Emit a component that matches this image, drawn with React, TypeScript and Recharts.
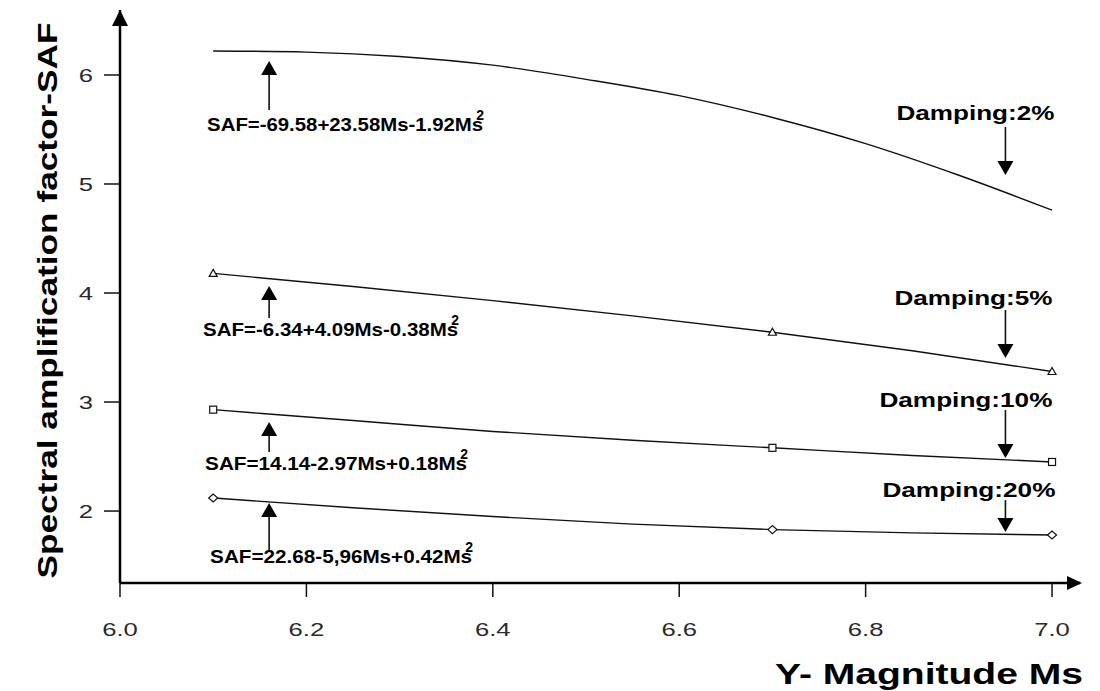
import React from "react";
import { ComposedChart, Line, Scatter, XAxis, YAxis, ReferenceDot } from "recharts";

// magnitude values where the fitted curves were read
const curveMs = [6.1, 6.25, 6.4, 6.55, 6.7, 6.85, 7.0];
const curveMs2 = [6.1, 6.2, 6.3, 6.4, 6.5, 6.6, 6.7, 6.8, 6.9, 7.0];

// SAF
const saf2 = [6.22, 6.21, 6.17, 6.09, 5.96, 5.81, 5.61, 5.37, 5.08, 4.76];
const saf5 = [4.18, 4.06, 3.93, 3.79, 3.64, 3.47, 3.28];
const saf10 = [2.93, 2.83, 2.73, 2.65, 2.58, 2.51, 2.45];
const saf20 = [2.12, 2.03, 1.95, 1.88, 1.83, 1.8, 1.78];

// observed points (markers)
const markerMs = [6.1, 6.7, 7.0];
const obs5 = [4.18, 3.64, 3.28];
const obs10 = [2.93, 2.58, 2.45];
const obs20 = [2.12, 1.83, 1.78];

const xTicks = [6.0, 6.2, 6.4, 6.6, 6.8, 7.0];
const yTicks = [2, 3, 4, 5, 6];

const dampingLabels = ["Damping:2%", "Damping:5%", "Damping:10%", "Damping:20%"];
const equations = [
  "SAF=-69.58+23.58Ms-1.92Ms",
  "SAF=-6.34+4.09Ms-0.38Ms",
  "SAF=14.14-2.97Ms+0.18Ms",
  "SAF=22.68-5,96Ms+0.42Ms",
];
// where the arrows point (Ms, SAF)
const eqArrowMs = 6.16;
const eqArrowSaf = [6.128, 4.064, 2.817, 2.073];
const dampArrowMs = 6.95;
const dampArrowSaf = [5.083, 3.404, 2.486, 1.807];

const X_DOMAIN: [number, number] = [6, 7.03];
const Y_DOMAIN: [number, number] = [1.34, 6.596];

const FONT = "'Liberation Sans', Arial, sans-serif";
const INK = "#111";

const toRows = (xs: number[], ys: number[]) => xs.map((m, i) => ({ m, saf: ys[i] }));

// layout of the annotation texts, px relative to arrow tip
const eqLayout = [
  { shaft: 49, dx: -62, dy: 70, len: 276 },
  { shaft: 32, dx: -66, dy: 50, len: 255 },
  { shaft: 30, dx: -64, dy: 48, len: 262 },
  { shaft: 49, dx: -59, dy: 60, len: 262 },
];
const dampLayout = [
  { shaft: 48, right: 49, dy: -55 },
  { shaft: 48, right: 47, dy: -53 },
  { shaft: 48, right: 47, dy: -51 },
  { shaft: 32, right: 50, dy: -35 },
];

function XTick(props: any) {
  const { x, y, payload } = props;
  return (
    <text
      transform={`translate(${x},${y + 37}) scale(1.35,1)`}
      textAnchor="middle"
      fontFamily={FONT}
      fontSize={19}
      fill="#2a2a2a"
    >
      {payload.value.toFixed(1)}
    </text>
  );
}

function YTick(props: any) {
  const { x, y, payload } = props;
  return (
    <text
      transform={`translate(${x - 2},${y + 7}) scale(1.35,1)`}
      textAnchor="end"
      fontFamily={FONT}
      fontSize={19}
      fill="#2a2a2a"
    >
      {payload.value}
    </text>
  );
}

const triangle = (p: any) => (
  <path
    d={`M${p.cx},${p.cy - 4} L${p.cx + 4},${p.cy + 3} L${p.cx - 4},${p.cy + 3} Z`}
    fill="#fff"
    stroke={INK}
    strokeWidth={1.2}
  />
);
const square = (p: any) => (
  <rect x={p.cx - 3.5} y={p.cy - 3.5} width={7} height={7} fill="#fff" stroke={INK} strokeWidth={1.2} />
);
const diamond = (p: any) => (
  <path
    d={`M${p.cx - 4.5},${p.cy} L${p.cx},${p.cy - 4} L${p.cx + 4.5},${p.cy} L${p.cx},${p.cy + 4} Z`}
    fill="#fff"
    stroke={INK}
    strokeWidth={1.2}
  />
);

function UpNote(props: any) {
  const { cx, cy, i } = props;
  const l = eqLayout[i];
  const tx = cx + l.dx;
  const ty = cy + l.dy;
  return (
    <g>
      <line x1={cx} y1={cy + 10} x2={cx} y2={cy + l.shaft} stroke={INK} strokeWidth={1.6} />
      <polygon points={`${cx},${cy} ${cx - 8},${cy + 14} ${cx + 8},${cy + 14}`} fill="#000" />
      <text
        x={tx}
        y={ty}
        textLength={l.len}
        lengthAdjust="spacingAndGlyphs"
        fontFamily={FONT}
        fontWeight="bold"
        fontSize={18}
        fill="#000"
      >
        {equations[i]}
      </text>
      <text x={tx + l.len + 1} y={ty - 11} textAnchor="end" fontFamily={FONT} fontWeight="bold" fontSize={14} fill="#000">
        2
      </text>
    </g>
  );
}

function DownNote(props: any) {
  const { cx, cy, i } = props;
  const l = dampLayout[i];
  return (
    <g>
      <line x1={cx} y1={cy - l.shaft} x2={cx} y2={cy - 10} stroke={INK} strokeWidth={1.6} />
      <polygon points={`${cx},${cy} ${cx - 8},${cy - 14} ${cx + 8},${cy - 14}`} fill="#000" />
      <text
        x={cx + l.right}
        y={cy + l.dy}
        textAnchor="end"
        fontFamily={FONT}
        fontWeight="bold"
        fontSize={21}
        fill="#000"
        textLength={i < 2 ? 158 : 173}
        lengthAdjust="spacingAndGlyphs"
      >
        {dampingLabels[i]}
      </text>
    </g>
  );
}

const YArrow = (p: any) => <polygon points={`${p.cx},${p.cy} ${p.cx - 8},${p.cy + 16} ${p.cx + 8},${p.cy + 16}`} fill="#000" />;
const XArrow = (p: any) => <polygon points={`${p.cx + 2},${p.cy} ${p.cx - 13},${p.cy - 7} ${p.cx - 13},${p.cy + 7}`} fill="#000" />;

export default function App() {
  return (
    <div style={{ position: "absolute", left: 0, top: 0, background: "#fff" }}>
      <ComposedChart width={1100} height={691} margin={{ top: 10, right: 20, left: 60, bottom: 68 }}>
        <XAxis
          type="number"
          dataKey="m"
          domain={X_DOMAIN}
          ticks={xTicks}
          allowDataOverflow
          height={40}
          tickSize={14}
          axisLine={{ stroke: "#000", strokeWidth: 2.5 }}
          tickLine={{ stroke: INK, strokeWidth: 1.5 }}
          tick={<XTick />}
          label={{
            content: (p: any) => (
              <text
                x={p.viewBox.x + p.viewBox.width + 3}
                y={p.viewBox.y + 101}
                textAnchor="end"
                fontFamily={FONT}
                fontWeight="bold"
                fontSize={30}
                fill="#000"
                textLength={308}
                lengthAdjust="spacingAndGlyphs"
              >
                Y- Magnitude Ms
              </text>
            ),
          }}
        />
        <YAxis
          type="number"
          domain={Y_DOMAIN}
          ticks={yTicks}
          allowDataOverflow
          width={60}
          tickSize={16}
          tickMargin={9}
          axisLine={{ stroke: "#000", strokeWidth: 2.5 }}
          tickLine={{ stroke: INK, strokeWidth: 1.5 }}
          tick={<YTick />}
          label={{
            content: (p: any) => {
              const cx = p.viewBox.x - 3;
              const cy = p.viewBox.y + p.viewBox.height / 2 + 4;
              return (
                <text
                  transform={`translate(${cx},${cy}) rotate(-90)`}
                  textAnchor="middle"
                  fontFamily={FONT}
                  fontWeight="bold"
                  fontSize={27}
                  fill="#000"
                  textLength={556}
                  lengthAdjust="spacingAndGlyphs"
                >
                  Spectral amplification factor-SAF
                </text>
              );
            },
          }}
        />

        <Line data={toRows(curveMs2, saf2)} dataKey="saf" type="monotone" stroke={INK} strokeWidth={1.4} dot={false} isAnimationActive={false} />
        <Line data={toRows(curveMs, saf5)} dataKey="saf" type="monotone" stroke={INK} strokeWidth={1.4} dot={false} isAnimationActive={false} />
        <Line data={toRows(curveMs, saf10)} dataKey="saf" type="monotone" stroke={INK} strokeWidth={1.4} dot={false} isAnimationActive={false} />
        <Line data={toRows(curveMs, saf20)} dataKey="saf" type="monotone" stroke={INK} strokeWidth={1.4} dot={false} isAnimationActive={false} />

        <Scatter data={toRows(markerMs, obs5)} dataKey="saf" shape={triangle} isAnimationActive={false} />
        <Scatter data={toRows(markerMs, obs10)} dataKey="saf" shape={square} isAnimationActive={false} />
        <Scatter data={toRows(markerMs, obs20)} dataKey="saf" shape={diamond} isAnimationActive={false} />

        {eqArrowSaf.map((v, i) => (
          <ReferenceDot key={`eq${i}`} x={eqArrowMs} y={v} r={1} ifOverflow="visible" shape={(p: any) => <UpNote {...p} i={i} />} />
        ))}
        {dampArrowSaf.map((v, i) => (
          <ReferenceDot key={`dp${i}`} x={dampArrowMs} y={v} r={1} ifOverflow="visible" shape={(p: any) => <DownNote {...p} i={i} />} />
        ))}
        <ReferenceDot x={X_DOMAIN[0]} y={Y_DOMAIN[1]} r={1} ifOverflow="visible" shape={YArrow} />
        <ReferenceDot x={X_DOMAIN[1]} y={Y_DOMAIN[0]} r={1} ifOverflow="visible" shape={XArrow} />
      </ComposedChart>
    </div>
  );
}
